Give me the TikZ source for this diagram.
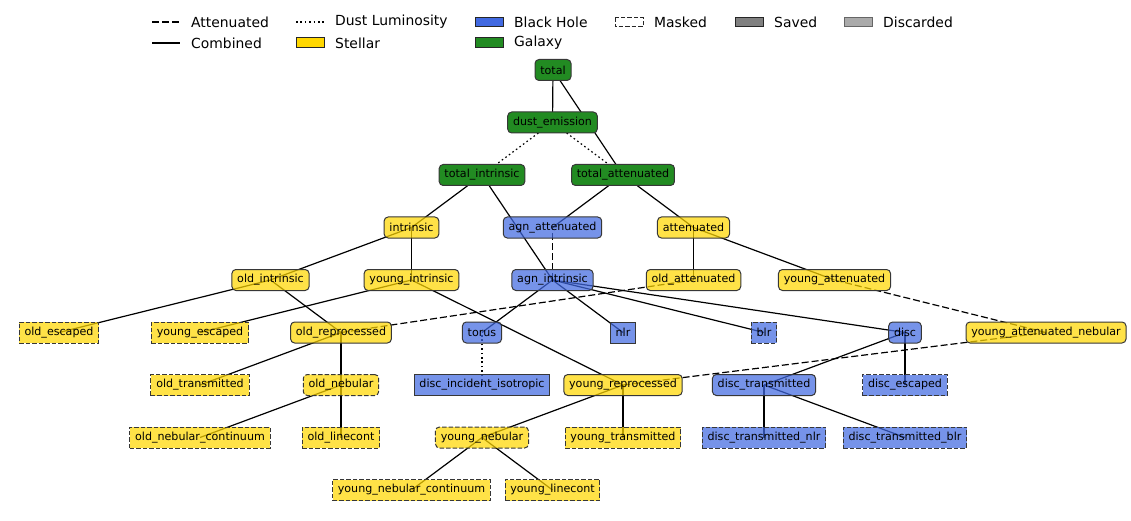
\documentclass[tikz,border=0pt]{standalone}
\usepackage{fontspec}
\setmainfont{DejaVu Sans}
\usetikzlibrary{backgrounds}
\definecolor{stellar}{RGB}{255,215,0}
\definecolor{bh}{RGB}{65,105,225}
\definecolor{galaxy}{RGB}{34,139,34}
\definecolor{bord}{RGB}{55,55,55}
\definecolor{saved}{RGB}{128,128,128}
\definecolor{discarded}{RGB}{170,170,170}
\tikzset{
  base/.style={draw=bord, line width=1pt, inner xsep=5.3pt, inner ysep=0pt, minimum height=21pt,
    font=\fontsize{11.1}{13}\selectfont, text=black, text opacity=1, anchor=center},
  rnd/.style={base, rounded corners=4pt},
  sq/.style={base},
  msk/.style={dash pattern=on 4.5pt off 2pt},
  st/.style={fill=stellar, fill opacity=0.72},
  bhs/.style={fill=bh, fill opacity=0.72},
  gal/.style={fill=galaxy},
  comb/.style={line width=1.2pt, black},
  attn/.style={line width=1.2pt, black, dash pattern=on 7pt off 3pt},
  dustl/.style={line width=1.2pt, black, dash pattern=on 1.6pt off 2.8pt},
  legtxt/.style={anchor=west, inner sep=0pt, font=\fontsize{13.9}{16}\selectfont},
  legbox/.style={line width=1pt, draw=black!85},
}
\begin{document}
\begin{tikzpicture}[x=1pt,y=-1pt]
\useasboundingbox (0,0) rectangle (1131,521);
% legend
\coordinate (l1a) at (152,22); \coordinate (l1b) at (180,22);
\draw[attn] (l1a) -- (l1b);
\node[legtxt] (t1) at (191,22) {Attenuated};
\coordinate (l2a) at (152,43); \coordinate (l2b) at (180,43);
\draw[comb] (l2a) -- (l2b);
\node[legtxt] (t2) at (191,43) {Combined};
\coordinate (l3a) at (296,22); \coordinate (l3b) at (324,22);
\draw[dustl] (l3a) -- (l3b);
\node[legtxt] (t3) at (335,22) {Dust Luminosity};
\draw[legbox, fill=stellar] (296,38) rectangle (324,47.5);
\node[legtxt] (t4) at (335,43) {Stellar};
\draw[legbox, fill=bh] (475,17.5) rectangle (503,27);
\node[legtxt] (t5) at (514,22) {Black Hole};
\draw[legbox, fill=galaxy] (475,38) rectangle (503,47.5);
\node[legtxt] (t6) at (514,43) {Galaxy};
\draw[legbox, msk, fill=white] (615,17.5) rectangle (643,27);
\node[legtxt] (t7) at (654,22) {Masked};
\draw[legbox, fill=saved] (735,17.5) rectangle (763,27);
\node[legtxt] (t8) at (774,22) {Saved};
\draw[legbox, draw=black!60, fill=discarded] (844,17.5) rectangle (872,27);
\node[legtxt] (t9) at (883,22) {Discarded};

% nodes
\node[rnd,gal] (total) at (553,70) {total};
\node[rnd,gal] (dust) at (552.5,122.5) {dust\_emission};
\node[rnd,gal] (totint) at (482,175) {total\_intrinsic};
\node[rnd,gal] (totatt) at (623,175) {total\_attenuated};
\node[rnd,st] (intr) at (411.5,227.5) {intrinsic};
\node[rnd,bhs] (agnatt) at (552.5,227.5) {agn\_attenuated};
\node[rnd,st] (att) at (693.5,227.5) {attenuated};
\node[rnd,st] (oldint) at (270.5,280) {old\_intrinsic};
\node[rnd,st] (youngint) at (411.5,280) {young\_intrinsic};
\node[rnd,bhs] (agnint) at (552.5,280) {agn\_intrinsic};
\node[rnd,st] (oldatt) at (693.5,280) {old\_attenuated};
\node[rnd,st] (youngatt) at (834.5,280) {young\_attenuated};
\node[sq,msk,st] (oldesc) at (59,332.5) {old\_escaped};
\node[sq,msk,st] (youngesc) at (200,332.5) {young\_escaped};
\node[rnd,st] (oldrep) at (341,332.5) {old\_reprocessed};
\node[rnd,bhs] (torus) at (482,332.5) {torus};
\node[sq,bhs] (nlr) at (623,332.5) {nlr};
\node[sq,msk,bhs] (blr) at (764,332.5) {blr};
\node[rnd,bhs] (disc) at (905,332.5) {disc};
\node[rnd,st] (yan) at (1046,332.5) {young\_attenuated\_nebular};
\node[sq,msk,st] (oldtr) at (200,385) {old\_transmitted};
\node[rnd,msk,st] (oldneb) at (341,385) {old\_nebular};
\node[sq,bhs] (dii) at (482,385) {disc\_incident\_isotropic};
\node[rnd,st] (yrep) at (623,385) {young\_reprocessed};
\node[rnd,bhs] (disctr) at (764,385) {disc\_transmitted};
\node[sq,msk,bhs] (discesc) at (905,385) {disc\_escaped};
\node[sq,msk,st] (onc) at (200,437.5) {old\_nebular\_continuum};
\node[sq,msk,st] (olc) at (341,437.5) {old\_linecont};
\node[rnd,msk,st] (yneb) at (482,437.5) {young\_nebular};
\node[sq,msk,st] (ytr) at (623,437.5) {young\_transmitted};
\node[sq,msk,bhs] (dtn) at (764,437.5) {disc\_transmitted\_nlr};
\node[sq,msk,bhs] (dtb) at (905,437.5) {disc\_transmitted\_blr};
\node[sq,msk,st] (ync) at (411.5,490) {young\_nebular\_continuum};
\node[sq,msk,st] (ylc) at (552.5,490) {young\_linecont};

% edges
\begin{pgfonlayer}{background}
\draw[comb] (total.center) -- (dust.center);
\draw[comb] (total.center) -- (totatt.center);
\draw[dustl] (dust.center) -- (totint.center);
\draw[dustl] (dust.center) -- (totatt.center);
\draw[comb] (totint.center) -- (intr.center);
\draw[comb] (totint.center) -- (agnint.center);
\draw[comb] (totatt.center) -- (agnatt.center);
\draw[comb] (totatt.center) -- (att.center);
\draw[comb] (intr.center) -- (oldint.center);
\draw[comb] (intr.center) -- (youngint.center);
\draw[attn] (agnint.center) -- (agnatt.center);
\draw[comb] (att.center) -- (oldatt.center);
\draw[comb] (att.center) -- (youngatt.center);
\draw[comb] (oldint.center) -- (oldesc.center);
\draw[comb] (oldint.center) -- (oldrep.center);
\draw[comb] (youngint.center) -- (youngesc.center);
\draw[comb] (youngint.center) -- (yrep.center);
\draw[comb] (agnint.center) -- (torus.center);
\draw[comb] (agnint.center) -- (nlr.center);
\draw[comb] (agnint.center) -- (blr.center);
\draw[comb] (agnint.center) -- (disc.center);
\draw[attn] (oldrep.center) -- (oldatt.center);
\draw[attn] (yan.center) -- (youngatt.center);
\draw[attn] (yrep.center) -- (yan.center);
\draw[comb] (oldrep.center) -- (oldtr.center);
\draw[comb] (oldrep.center) -- (oldneb.center);
\draw[dustl] (dii.center) -- (torus.center);
\draw[comb] (disc.center) -- (disctr.center);
\draw[comb] (disc.center) -- (discesc.center);
\draw[comb] (oldneb.center) -- (onc.center);
\draw[comb] (oldneb.center) -- (olc.center);
\draw[comb] (yrep.center) -- (yneb.center);
\draw[comb] (yrep.center) -- (ytr.center);
\draw[comb] (disctr.center) -- (dtn.center);
\draw[comb] (disctr.center) -- (dtb.center);
\draw[comb] (yneb.center) -- (ync.center);
\draw[comb] (yneb.center) -- (ylc.center);
\end{pgfonlayer}
\end{tikzpicture}
\end{document}
